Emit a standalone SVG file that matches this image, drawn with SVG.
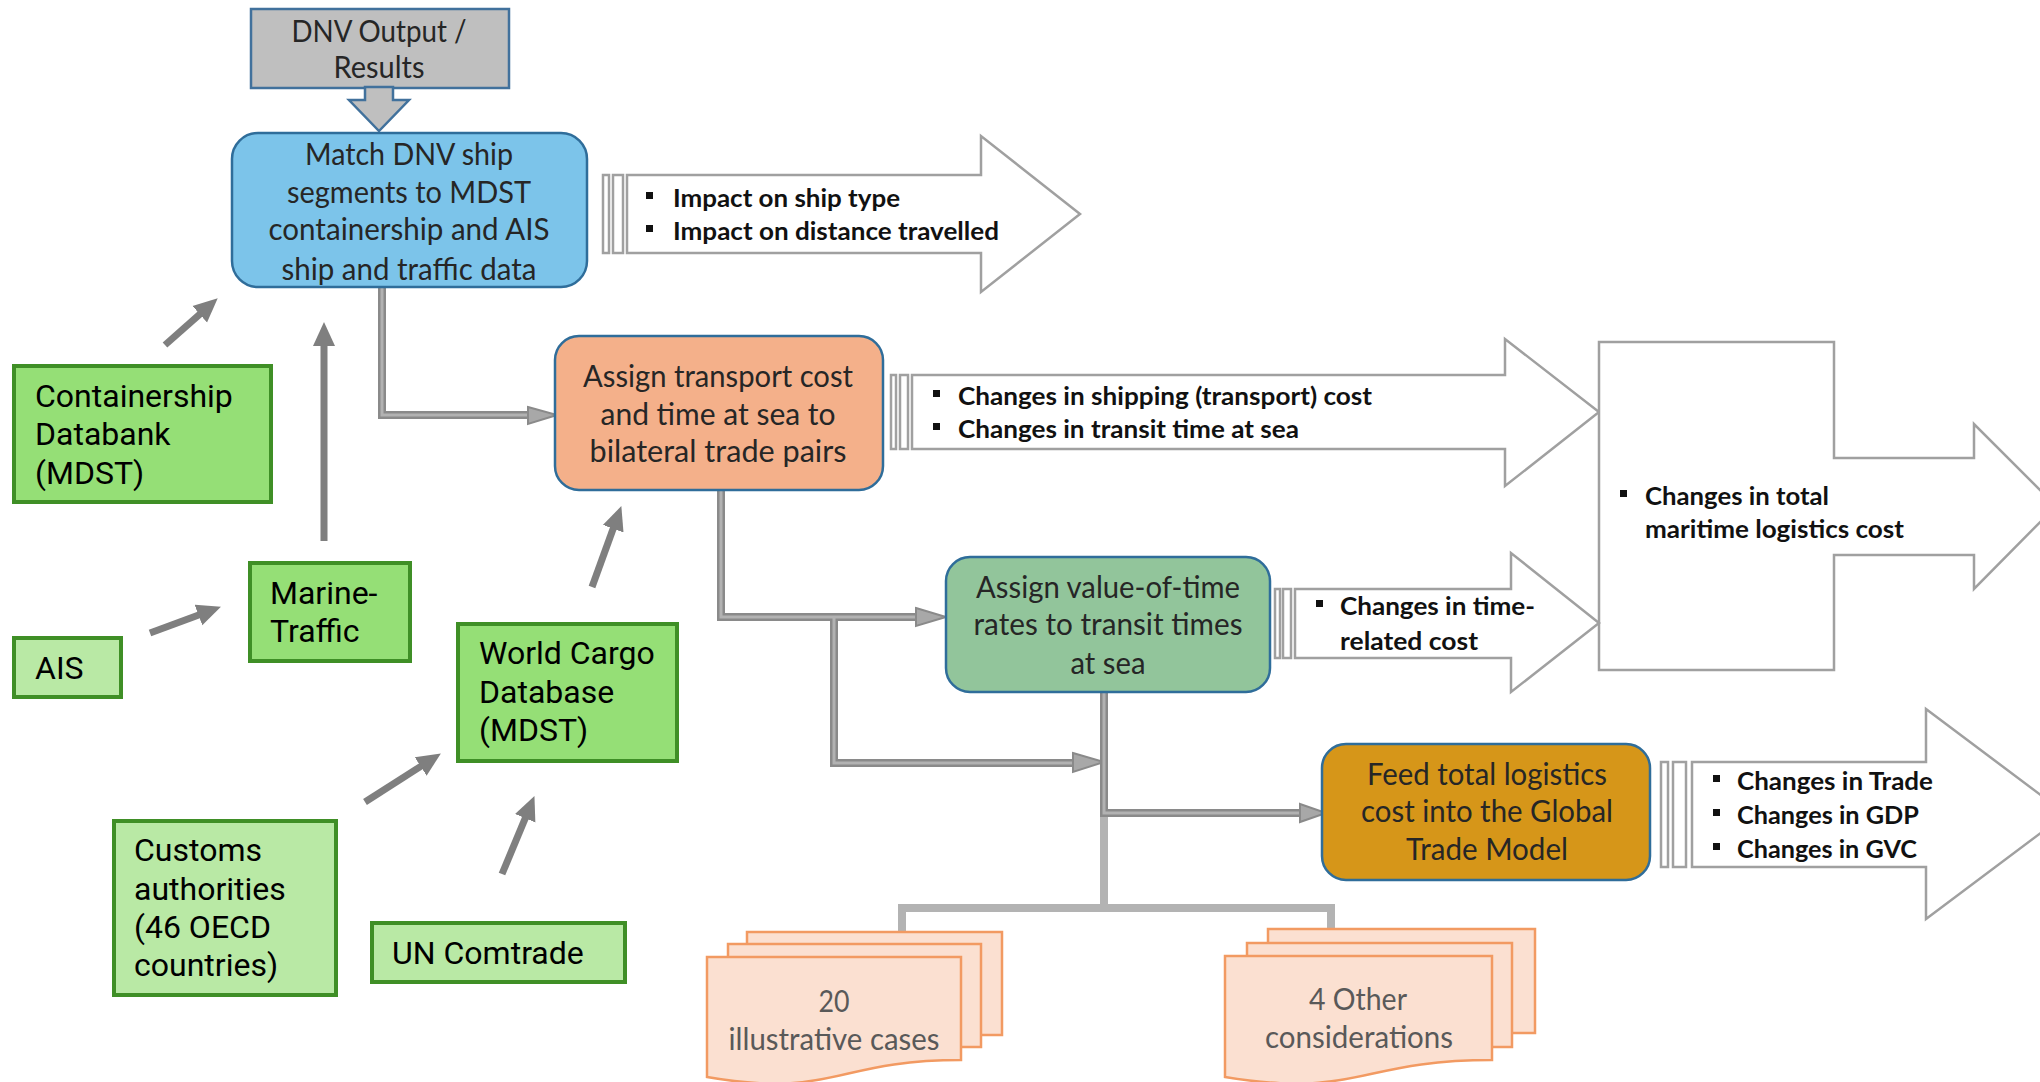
<svg xmlns="http://www.w3.org/2000/svg" width="2040" height="1082" viewBox="0 0 2040 1082">
<defs>
<style>
.cal{font-family:Lato,"Open Sans","Liberation Sans",sans-serif;font-size:30px;fill:#262626;text-anchor:middle}
.bul{font-family:Lato,"Open Sans","Liberation Sans",sans-serif;font-size:25px;font-weight:bold;fill:#111}
.rob{font-family:Roboto,"Liberation Sans",sans-serif;font-size:32px;fill:#000}
.doc{font-family:Lato,"Open Sans","Liberation Sans",sans-serif;font-size:30px;fill:#595959;text-anchor:middle}
.proc{stroke:#2f6d9a;stroke-width:2.5}
.outl{fill:#fff;stroke:#a0a0a0;stroke-width:2.5}
.gmid{fill:#95df76;stroke:#3f8f26;stroke-width:4}
.glt{fill:#b9e9a5;stroke:#3f8f26;stroke-width:4}
.sheet{fill:#fbe0d1;stroke:#f29a62;stroke-width:2.5}
.dbl1{fill:none;stroke:#8a8a8a;stroke-width:8}
.dbl2{fill:none;stroke:#b2b2b2;stroke-width:3}
.head{fill:#a8a8a8;stroke:#8a8a8a;stroke-width:2}
.lite{fill:none;stroke:#b3b3b3;stroke-width:8}
.garr{fill:none;stroke:#7f7f7f;stroke-width:7;marker-end:url(#gh)}
</style>
<marker id="gh" markerUnits="userSpaceOnUse" markerWidth="26" markerHeight="24" viewBox="0 -12 26 24" refX="1" refY="0" orient="auto">
<path d="M0,-11 L24,0 L0,11 Z" fill="#7f7f7f"/>
</marker>
</defs>

<!-- output arrows (striped) -->
<g id="out-impact">
<rect x="603" y="175" width="6" height="78" class="outl" stroke-width="2"/>
<rect x="613" y="175" width="10" height="78" class="outl" stroke-width="2"/>
<path d="M627,175 H981 V136 L1080,214 L981,292 V253 H627 Z" class="outl"/>
<rect x="646" y="192" width="7" height="7" fill="#111"/>
<rect x="646" y="225" width="7" height="7" fill="#111"/>
<text x="673" y="207" class="bul" textLength="227" lengthAdjust="spacingAndGlyphs">Impact on ship type</text>
<text x="673" y="240" class="bul" textLength="326" lengthAdjust="spacingAndGlyphs">Impact on distance travelled</text>
</g>

<g id="out-shipping">
<rect x="891" y="375" width="5" height="74" class="outl" stroke-width="2"/>
<rect x="900" y="375" width="8" height="74" class="outl" stroke-width="2"/>
<path d="M912,375 H1505 V339 L1599,412 L1505,486 V449 H912 Z" class="outl"/>
<rect x="933" y="390" width="7" height="7" fill="#111"/>
<rect x="933" y="423" width="7" height="7" fill="#111"/>
<text x="958" y="405" class="bul" textLength="414" lengthAdjust="spacingAndGlyphs">Changes in shipping (transport) cost</text>
<text x="958" y="438" class="bul" textLength="341" lengthAdjust="spacingAndGlyphs">Changes in transit time at sea</text>
</g>

<g id="out-total">
<path d="M1599,342 H1834 V458 H1974 V424 L2056,506 L1974,589 V555 H1834 V670 H1599 Z" class="outl"/>
<rect x="1620" y="490" width="7" height="7" fill="#111"/>
<text x="1645" y="505" class="bul" textLength="184" lengthAdjust="spacingAndGlyphs">Changes in total</text>
<text x="1645" y="538" class="bul" textLength="259" lengthAdjust="spacingAndGlyphs">maritime logistics cost</text>
</g>

<g id="out-time">
<rect x="1275" y="589" width="5" height="69" class="outl" stroke-width="2"/>
<rect x="1283" y="589" width="8" height="69" class="outl" stroke-width="2"/>
<path d="M1295,589 H1511 V553 L1599,623 L1511,692 V658 H1295 Z" class="outl"/>
<rect x="1316" y="600" width="7" height="7" fill="#111"/>
<text x="1340" y="615" class="bul" textLength="195" lengthAdjust="spacingAndGlyphs">Changes in time-</text>
<text x="1340" y="650" class="bul" textLength="138" lengthAdjust="spacingAndGlyphs">related cost</text>
</g>

<g id="out-trade">
<rect x="1661" y="762" width="7" height="105" class="outl" stroke-width="2"/>
<rect x="1673" y="762" width="13" height="105" class="outl" stroke-width="2"/>
<path d="M1692,762 H1926 V709 L2066,814 L1926,919 V867 H1692 Z" class="outl"/>
<rect x="1713" y="775" width="7" height="7" fill="#111"/>
<rect x="1713" y="809" width="7" height="7" fill="#111"/>
<rect x="1713" y="843" width="7" height="7" fill="#111"/>
<text x="1737" y="790" class="bul" textLength="196" lengthAdjust="spacingAndGlyphs">Changes in Trade</text>
<text x="1737" y="824" class="bul" textLength="182" lengthAdjust="spacingAndGlyphs">Changes in GDP</text>
<text x="1737" y="858" class="bul" textLength="180" lengthAdjust="spacingAndGlyphs">Changes in GVC</text>
</g>

<!-- connectors -->
<g id="connectors">
<path d="M1104,813 V908 M902,943 V908 H1331 V943" class="lite"/>
<path d="M382,287 V415 H530" class="dbl1"/>
<path d="M382,287 V415 H530" class="dbl2"/>
<polygon points="528,407 557,415 528,424" class="head"/>
<path d="M721,490 V617 H918 M834,617 V763 H1075" class="dbl1"/>
<path d="M721,490 V617 H918 M834,617 V763 H1075" class="dbl2"/>
<polygon points="916,608 946,617 916,626" class="head"/>
<polygon points="1073,753 1104,762 1073,772" class="head"/>
<path d="M1104,692 V813 H1302" class="dbl1"/>
<path d="M1104,692 V813 H1302" class="dbl2"/>
<polygon points="1300,804 1326,813 1300,822" class="head"/>
<path d="M165,345 L200.5,313.6" class="garr"/>
<path d="M324,541 L324,345" class="garr"/>
<path d="M150,633 L199.4,614.7" class="garr"/>
<path d="M592,587 L613.5,527.7" class="garr"/>
<path d="M365,802 L421.5,765.9" class="garr"/>
<path d="M502,874 L525.6,817.3" class="garr"/>
</g>

<g id="dnv-output">
<rect x="251" y="9" width="258" height="79" fill="#bfbfbf" stroke="#41719c" stroke-width="2.5"/>
<polygon points="365,87 393,87 393,100 409,100 379,131 349,100 365,100" fill="#bfbfbf" stroke="#41719c" stroke-width="2.5"/>
<text x="379" y="42" class="cal" textLength="175" lengthAdjust="spacingAndGlyphs">DNV Output /</text>
<text x="379" y="78" class="cal" textLength="91" lengthAdjust="spacingAndGlyphs">Results</text>
</g>

<g id="match-dnv">
<rect x="232" y="133" width="355" height="154" rx="26" fill="#7cc4ea" class="proc"/>
<text x="409" y="165" class="cal" textLength="208" lengthAdjust="spacingAndGlyphs">Match DNV ship</text>
<text x="409" y="203" class="cal" textLength="244" lengthAdjust="spacingAndGlyphs">segments to MDST</text>
<text x="409" y="240" class="cal" textLength="281" lengthAdjust="spacingAndGlyphs">containership and AIS</text>
<text x="409" y="280" class="cal" textLength="255" lengthAdjust="spacingAndGlyphs">ship and traffic data</text>
</g>

<g id="assign-transport">
<rect x="555" y="336" width="328" height="154" rx="24" fill="#f4b08a" class="proc"/>
<text x="718" y="387" class="cal" textLength="270" lengthAdjust="spacingAndGlyphs">Assign transport cost</text>
<text x="718" y="425" class="cal" textLength="235" lengthAdjust="spacingAndGlyphs">and time at sea to</text>
<text x="718" y="462" class="cal" textLength="257" lengthAdjust="spacingAndGlyphs">bilateral trade pairs</text>
</g>

<g id="assign-vot">
<rect x="946" y="557" width="324" height="135" rx="24" fill="#92c59b" class="proc"/>
<text x="1108" y="598" class="cal" textLength="264" lengthAdjust="spacingAndGlyphs">Assign value-of-time</text>
<text x="1108" y="635" class="cal" textLength="269" lengthAdjust="spacingAndGlyphs">rates to transit times</text>
<text x="1108" y="674" class="cal" textLength="75" lengthAdjust="spacingAndGlyphs">at sea</text>
</g>

<g id="feed-gtm">
<rect x="1322" y="744" width="328" height="136" rx="24" fill="#d69619" class="proc"/>
<text x="1487" y="785" class="cal" textLength="240" lengthAdjust="spacingAndGlyphs">Feed total logistics</text>
<text x="1487" y="822" class="cal" textLength="252" lengthAdjust="spacingAndGlyphs">cost into the Global</text>
<text x="1487" y="860" class="cal" textLength="162" lengthAdjust="spacingAndGlyphs">Trade Model</text>
</g>

<g id="containership-databank">
<rect x="14" y="366" width="257" height="136" class="gmid"/>
<text x="35" y="407" class="rob">Containership</text>
<text x="35" y="445" class="rob">Databank</text>
<text x="35" y="484" class="rob">(MDST)</text>
</g>

<g id="marine-traffic">
<rect x="250" y="563" width="160" height="98" class="gmid"/>
<text x="270" y="604" class="rob">Marine-</text>
<text x="270" y="642" class="rob">Traffic</text>
</g>

<g id="ais">
<rect x="14" y="638" width="107" height="59" class="glt"/>
<text x="35" y="679" class="rob">AIS</text>
</g>

<g id="world-cargo">
<rect x="458" y="624" width="219" height="137" class="gmid"/>
<text x="479" y="664" class="rob">World Cargo</text>
<text x="479" y="703" class="rob">Database</text>
<text x="479" y="741" class="rob">(MDST)</text>
</g>

<g id="customs">
<rect x="114" y="821" width="222" height="174" class="glt"/>
<text x="134" y="861" class="rob">Customs</text>
<text x="134" y="900" class="rob">authorities</text>
<text x="134" y="938" class="rob">(46 OECD</text>
<text x="134" y="976" class="rob">countries)</text>
</g>

<g id="un-comtrade">
<rect x="372" y="923" width="253" height="59" class="glt"/>
<text x="392" y="964" class="rob">UN Comtrade</text>
</g>

<g id="illustrative-cases">
<rect x="747" y="932" width="255" height="103" class="sheet"/>
<rect x="728" y="944" width="253" height="103" class="sheet"/>
<path d="M707,957 H961 V1060 C834,1060 834,1099 707,1077 Z" class="sheet"/>
<text x="834" y="1012" class="doc" textLength="31" lengthAdjust="spacingAndGlyphs">20</text>
<text x="834" y="1050" class="doc" textLength="211" lengthAdjust="spacingAndGlyphs">illustrative cases</text>
</g>

<g id="other-considerations">
<rect x="1268" y="929" width="267" height="104" class="sheet"/>
<rect x="1247" y="943" width="265" height="104" class="sheet"/>
<path d="M1225,956 H1492 V1060 C1358,1060 1358,1099 1225,1077 Z" class="sheet"/>
<text x="1358" y="1010" class="doc" textLength="98" lengthAdjust="spacingAndGlyphs">4 Other</text>
<text x="1359" y="1048" class="doc" textLength="188" lengthAdjust="spacingAndGlyphs">considerations</text>
</g>
</svg>
